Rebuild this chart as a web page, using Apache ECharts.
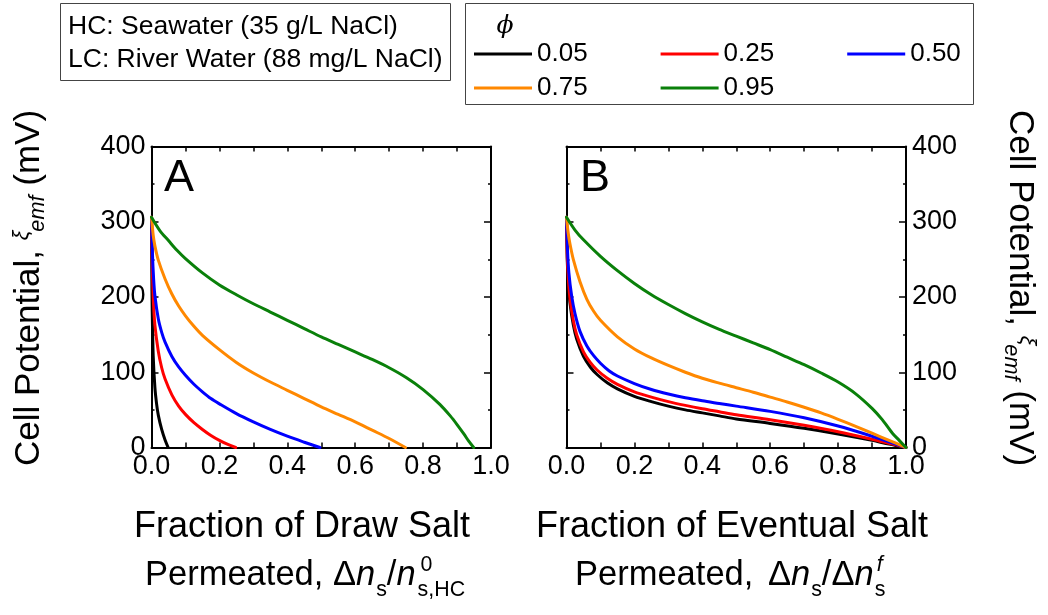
<!DOCTYPE html>
<html>
<head>
<meta charset="utf-8">
<script src="https://cdn.jsdelivr.net/npm/echarts@6/dist/echarts.min.js"></script>
<style>
  html, body { margin: 0; padding: 0; background: #fff; }
  #chart { width: 1048px; height: 615px; }
</style>
</head>
<body>
<div id="chart"></div>
<script>
const FONT = '"Liberation Sans", Arial, Helvetica, sans-serif';

// Volume fraction phi (legend names) and their line colours
const phiLabels = ['0.05', '0.25', '0.50', '0.75', '0.95'];
const phiColors = ['#000000', '#ff0000', '#0000ff', '#ff8800', '#0a800a'];

// Panel A: fraction of draw salt permeated (x) vs. cell potential in mV (y)
const drawA_005 = [[0,306],[0.001,230],[0.002,185],[0.005,122],[0.01,80],[0.015,58],[0.02,43],[0.03,24],[0.04,10],[0.049,0]];
const drawA_025 = [[0,306],[0.002,250],[0.005,200],[0.01,163],[0.02,128],[0.03,106],[0.04,91],[0.06,70],[0.08,55],[0.1,44],[0.125,33],[0.15,24],[0.175,16],[0.2,9.5],[0.225,4],[0.248,0]];
const drawA_050 = [[0,306],[0.003,255],[0.006,226],[0.01,202],[0.02,171],[0.03,153],[0.04,140],[0.06,121],[0.08,107],[0.1,96],[0.125,84],[0.15,74],[0.175,65],[0.2,58],[0.25,45],[0.3,34],[0.35,24],[0.4,15],[0.45,7],[0.496,0]];
const drawA_075 = [[0,306],[0.005,282],[0.01,268],[0.02,249],[0.04,224],[0.06,204],[0.08,188],[0.1,175],[0.125,161],[0.15,149],[0.2,130],[0.25,113],[0.3,99],[0.35,87],[0.4,76],[0.45,65],[0.5,54],[0.55,44],[0.6,34],[0.65,23],[0.7,12],[0.748,0]];
const drawA_095 = [[0,306],[0.025,288],[0.05,275],[0.075,262],[0.1,251],[0.15,232],[0.2,216],[0.25,203],[0.3,191],[0.35,180],[0.4,169],[0.45,158],[0.5,147],[0.55,137],[0.6,127],[0.65,117],[0.7,106],[0.75,93],[0.8,77],[0.85,57],[0.88,42],[0.9,30.5],[0.92,18],[0.935,8],[0.949,0]];

// Panel B: fraction of eventual salt permeated (x) vs. cell potential in mV (y)
const eventB_005 = [[0,306],[0.002,252],[0.005,222],[0.01,193],[0.02,163],[0.03,144],[0.05,121],[0.07,107],[0.09,97],[0.12,86],[0.15,78],[0.2,68],[0.25,61],[0.3,55],[0.35,50],[0.4,46],[0.45,42],[0.5,38],[0.6,32],[0.7,25.5],[0.8,18],[0.9,9.5],[0.95,4.5],[1,0]];
const eventB_025 = [[0,306],[0.002,258],[0.005,228],[0.01,199],[0.02,169],[0.03,150],[0.05,127],[0.07,113],[0.09,103],[0.12,92],[0.15,84],[0.2,74],[0.25,67],[0.3,61],[0.35,56],[0.4,51.5],[0.45,47.5],[0.5,43.5],[0.6,37],[0.7,29.5],[0.8,21],[0.9,11],[0.95,5.5],[1,0]];
const eventB_050 = [[0,306],[0.003,262],[0.007,232],[0.015,202],[0.025,178],[0.04,154],[0.06,135],[0.08,122],[0.1,112],[0.125,102],[0.15,95],[0.2,85],[0.25,77],[0.3,71],[0.35,66],[0.4,62],[0.45,58.5],[0.5,55],[0.6,48],[0.7,39.5],[0.8,28.5],[0.9,15],[0.95,7.5],[1,0]];
const eventB_075 = [[0,306],[0.005,285],[0.01,271],[0.02,250],[0.04,220],[0.06,197],[0.08,181],[0.1,169],[0.15,147],[0.2,131],[0.25,119],[0.3,109],[0.35,100],[0.4,92],[0.45,85.5],[0.5,79.5],[0.55,73.5],[0.6,67],[0.65,60.5],[0.7,53.5],[0.75,46],[0.8,37.5],[0.85,28.5],[0.9,19],[0.95,9.5],[1,0]];
const eventB_095 = [[0,306],[0.025,289],[0.05,276],[0.1,254],[0.15,235],[0.2,218],[0.25,203],[0.3,190],[0.35,178],[0.4,167],[0.45,157],[0.5,148],[0.55,139],[0.6,130],[0.65,120],[0.7,110],[0.75,99],[0.8,87],[0.85,72],[0.9,52],[0.93,37],[0.96,19],[0.98,9.5],[1,0]];

// Axis ranges and tick spacing
const xRange = [0, 1], xStep = 0.2;
const yRange = [0, 400], yStep = 100;

const panelA = [drawA_005, drawA_025, drawA_050, drawA_075, drawA_095];
const panelB = [eventB_005, eventB_025, eventB_050, eventB_075, eventB_095];

// Text measuring, used to lay out titles with sub/superscripts
const measureCtx = document.createElement('canvas').getContext('2d');
function textWidth(t, size, italic) {
  measureCtx.font = (italic ? 'italic ' : '') + size + 'px ' + FONT;
  return measureCtx.measureText(t).width;
}
function textAt(t, x, baseline, size, italic) {
  return {
    type: 'text', x: x, y: baseline - 0.3465 * size,
    style: { text: t, fontSize: size, fontFamily: FONT, fontStyle: italic ? 'italic' : 'normal',
             fill: '#000', align: 'left', verticalAlign: 'middle' }
  };
}
// Lays runs out left to right from (x0, baseline). A run may carry a
// baseline shift (dy), a size factor, italics, or a stacked sup/sub pair.
function runs(x0, baseline, S, parts) {
  const out = [];
  let x = x0;
  parts.forEach(p => {
    if (p.stack) {
      const sz = S * 0.62;
      const xs = x + (p.stack.shift || 0);
      out.push(textAt(p.stack.sup, xs + (p.stack.supDx || 0), baseline - 0.42 * S, sz, p.stack.supItalic));
      out.push(textAt(p.stack.sub, xs, baseline + 0.3 * S, sz, false));
      x = xs + Math.max(textWidth(p.stack.sup, sz, p.stack.supItalic) + (p.stack.supDx || 0), textWidth(p.stack.sub, sz, false));
      return;
    }
    const sz = S * (p.k || 1);
    x += p.dx || 0;
    out.push(textAt(p.t, x, baseline + (p.dy || 0) * S, sz, p.i));
    x += textWidth(p.t, sz, p.i);
  });
  return out;
}

const TITLE = 35;
const yTitleParts = [
  { t: 'Cell Potential, ' },
  { t: 'ξ', i: true, k: 0.62, dy: -0.34 },
  { t: 'emf', i: true, k: 0.62, dy: 0.14, dx: -1 },
  { t: ' (mV)' }
];
const xTitleA2 = [
  { t: 'Permeated, ' }, { t: 'Δ' }, { t: 'n', i: true }, { t: 's', k: 0.62, dy: 0.3, dx: 1 },
  { t: '/' }, { t: 'n', i: true },
  { stack: { sup: '0', sub: 's,HC', shift: 2, supDx: 3 } }
];
const xTitleB2 = [
  { t: 'Permeated, ' }, { t: 'Δ', dx: 5 }, { t: 'n', i: true }, { t: 's', k: 0.62, dy: 0.3, dx: 1 },
  { t: '/' }, { t: 'Δ' }, { t: 'n', i: true },
  { stack: { sup: 'f', sub: 's', shift: 1, supDx: 2, supItalic: true } }
];

const grids = [
  { left: 151.5, top: 146.5, width: 339.5, height: 301 },
  { left: 566.5, top: 146.5, width: 339.5, height: 301 }
];

function xAxis(gridIndex, position, showLabel) {
  return {
    type: 'value', gridIndex: gridIndex, position: position,
    min: xRange[0], max: xRange[1], interval: xStep,
    axisLine: { show: true, onZero: false, lineStyle: { color: '#000', width: 2 } },
    axisTick: { show: true, inside: true, length: 5, lineStyle: { color: '#000', width: 1.5 } },
    minorTick: { show: true, splitNumber: 2, length: 5, lineStyle: { color: '#000', width: 1.5 } },
    splitLine: { show: false }, minorSplitLine: { show: false },
    axisLabel: { show: showLabel, margin: 6, fontSize: 27, color: '#000', fontFamily: FONT,
                 formatter: v => v.toFixed(1) }
  };
}
function yAxis(gridIndex, position, showLabel) {
  return {
    type: 'value', gridIndex: gridIndex, position: position,
    min: yRange[0], max: yRange[1], interval: yStep,
    axisLine: { show: true, onZero: false, lineStyle: { color: '#000', width: 2 } },
    axisTick: { show: true, inside: true, length: 7, lineStyle: { color: '#000', width: 1.5 } },
    minorTick: { show: true, splitNumber: 2, length: 3, lineStyle: { color: '#000', width: 1.5 } },
    splitLine: { show: false }, minorSplitLine: { show: false },
    axisLabel: { show: showLabel, margin: 6, fontSize: 27, color: '#000', fontFamily: FONT }
  };
}

function lineSeries(name, data, color, xi, yi) {
  return {
    type: 'line', name: name, data: data, xAxisIndex: xi, yAxisIndex: yi,
    showSymbol: false, symbol: 'none', smooth: 0.3, clip: true,
    lineStyle: { color: color, width: 3, join: 'round', cap: 'round' }, itemStyle: { color: color },
    emphasis: { disabled: true }, animation: false
  };
}

const series = [];
panelA.forEach((d, i) => series.push(lineSeries(phiLabels[i], d, phiColors[i], 0, 0)));
panelB.forEach((d, i) => series.push(lineSeries(phiLabels[i], d, phiColors[i], 2, 3)));

const legendBase = {
  left: 474, icon: 'rect', itemWidth: 58, itemHeight: 3, itemGap: 73, padding: 0,
  selectedMode: false, textStyle: { fontSize: 26, color: '#000', fontFamily: FONT }
};

const graphic = [
  // Solution box
  { type: 'rect', shape: { x: 60.5, y: 3.5, width: 390, height: 77 }, style: { fill: '#fff', stroke: '#444', lineWidth: 1 } },
  { type: 'text', x: 68, y: 27, style: { text: 'HC: Seawater (35 g/L NaCl)', fontSize: 26.5, fontFamily: FONT, fill: '#000', align: 'left', verticalAlign: 'middle' } },
  { type: 'text', x: 68, y: 60, style: { text: 'LC: River Water (88 mg/L NaCl)', fontSize: 26.5, fontFamily: FONT, fill: '#000', align: 'left', verticalAlign: 'middle' } },
  // Legend frame and its phi heading
  { type: 'rect', z: -1, shape: { x: 465.5, y: 3.5, width: 508, height: 101 }, style: { fill: '#fff', stroke: '#444', lineWidth: 1 } },
  { type: 'text', x: 505, y: 26, style: { text: 'ϕ', fontSize: 25, fontStyle: 'italic', fontFamily: '"DejaVu Serif", serif', fill: '#000', align: 'center', verticalAlign: 'middle' } },
  // Panel letters
  { type: 'text', x: 164, y: 179, style: { text: 'A', fontSize: 45, fontFamily: FONT, fill: '#000', align: 'left', verticalAlign: 'middle' } },
  { type: 'text', x: 580, y: 179, style: { text: 'B', fontSize: 45, fontFamily: FONT, fill: '#000', align: 'left', verticalAlign: 'middle' } },
  // X axis titles
  { type: 'text', x: 302, y: 527, style: { text: 'Fraction of Draw Salt', fontSize: 36, fontFamily: FONT, fill: '#000', align: 'center', verticalAlign: 'middle' } },
  { type: 'group', children: runs(145, 587, 34.5, xTitleA2) },
  { type: 'text', x: 732, y: 527, style: { text: 'Fraction of Eventual Salt', fontSize: 36, fontFamily: FONT, fill: '#000', align: 'center', verticalAlign: 'middle' } },
  { type: 'group', children: runs(575, 587, 34.5, xTitleB2) },
  // Y axis titles (left reads upward, right reads downward)
  { type: 'group', x: 41, y: 466, rotation: Math.PI / 2, children: runs(0, 0, TITLE, yTitleParts) },
  { type: 'group', x: 1008, y: 110, rotation: -Math.PI / 2, children: runs(0, 0, TITLE, yTitleParts) }
];

const chart = echarts.init(document.getElementById('chart'), null, { renderer: 'canvas' });
chart.setOption({
  animation: false,
  backgroundColor: '#fff',
  grid: grids,
  xAxis: [xAxis(0, 'bottom', true), xAxis(0, 'top', false), xAxis(1, 'bottom', true), xAxis(1, 'top', false)],
  yAxis: [yAxis(0, 'left', true), yAxis(0, 'right', false), yAxis(1, 'left', false), yAxis(1, 'right', true)],
  legend: [
    Object.assign({}, legendBase, { data: phiLabels.slice(0, 3), top: 41 }),
    Object.assign({}, legendBase, { data: phiLabels.slice(3), top: 75 })
  ],
  graphic: graphic,
  series: series
});
</script>
</body>
</html>
